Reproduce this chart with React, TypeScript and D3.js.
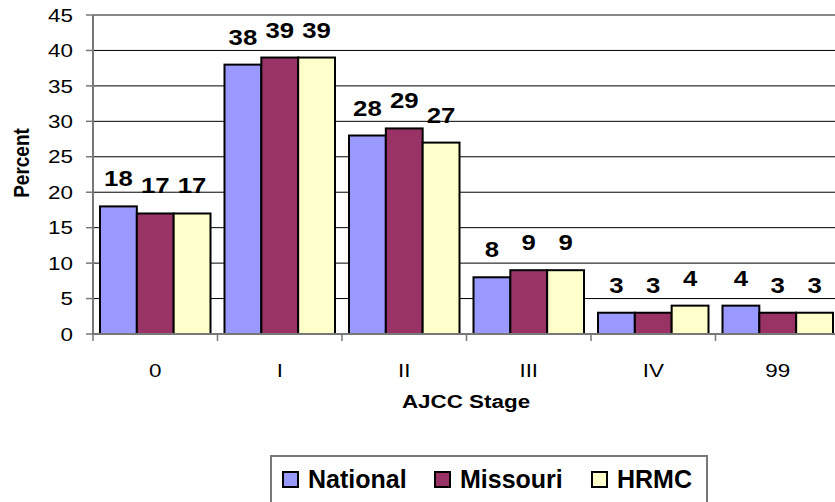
import * as d3 from 'd3';

const stages = ['0', 'I', 'II', 'III', 'IV', '99'];
const seriesNames = ['National', 'Missouri', 'HRMC'];
const national = [18, 38, 28, 8, 3, 4];
const missouri = [17, 39, 29, 9, 3, 3];
const hrmc = [17, 39, 27, 9, 4, 3];
const yTicks = [0, 5, 10, 15, 20, 25, 30, 35, 40, 45];
const colors = ['#9999FF', '#993366', '#FFFFCC'];

const W = 835;
const H = 502;
const FONT = 'Arial, "Liberation Sans", sans-serif';

// text slightly widened, like the stretched original picture
function T({ x, y, sx = 1.18, anchor = 'middle', size = 19, bold = false, dy, children }: any) {
  return (
    <text transform={`translate(${x},${y}) scale(${sx},1)`} textAnchor={anchor} dy={dy}
      fontSize={size} fontWeight={bold ? 'bold' : 'normal'}>{children}</text>
  );
}

export default function App() {
  const series = [national, missouri, hrmc];
  const left = 93, right = 840, top = 15, bottom = 334;

  const x = d3.scaleBand<string>().domain(stages).range([left, right]).padding(0);
  const inner = d3.scaleBand<string>().domain(seriesNames)
    .range([7, x.bandwidth() - 7]).padding(0);
  const y = d3.scaleLinear().domain([0, 45]).range([bottom, top]);

  const legendX = [283, 435, 592];

  return (
    <svg width={W} height={H} style={{ position: 'absolute', left: 0, top: 0, background: '#fff' }}
      fontFamily={FONT}>
      {/* gridlines */}
      {yTicks.filter(t => t > 0 && t < 45).map(t => (
        <line key={t} x1={left} x2={right} y1={y(t)} y2={y(t)} stroke="#000" strokeWidth={1} />
      ))}
      <line x1={left} x2={right} y1={y(45)} y2={y(45)} stroke="#888" strokeWidth={2} />

      {/* bars */}
      {stages.map((s, i) => (
        <g key={s}>
          {series.map((vals, k) => {
            const bx = (x(s) ?? 0) + (inner(seriesNames[k]) ?? 0);
            const bw = inner.bandwidth();
            return (
              <g key={k}>
                <rect x={bx} y={y(vals[i])} width={bw} height={y(0) - y(vals[i])}
                  fill={colors[k]} stroke="#000" strokeWidth={2} />
                <T x={bx + bw / 2} y={y(vals[i]) - 20} size={23} sx={1.12} bold>{vals[i]}</T>
              </g>
            );
          })}
        </g>
      ))}

      {/* axes */}
      <line x1={left} x2={left} y1={top} y2={bottom} stroke="#777" strokeWidth={2} />
      <line x1={left} x2={right} y1={bottom} y2={bottom} stroke="#777" strokeWidth={2} />
      {yTicks.map(t => (
        <g key={t}>
          <line x1={left - 7} x2={left} y1={y(t)} y2={y(t)} stroke="#777" strokeWidth={1.5} />
          <T x={73} y={y(t)} dy="0.35em" anchor="end">{t}</T>
        </g>
      ))}
      {stages.map(s => (
        <g key={s}>
          <line x1={x(s)} x2={x(s)} y1={bottom} y2={bottom + 7} stroke="#777" strokeWidth={1.5} />
          <T x={(x(s) ?? 0) + x.bandwidth() / 2} y={377}>{s}</T>
        </g>
      ))}
      <text transform={`translate(29,163) scale(1.2,1) rotate(-90)`} textAnchor="middle"
        fontSize={19} fontWeight="bold">Percent</text>
      <T x={466} y={408} bold>AJCC Stage</T>

      {/* legend */}
      <rect x={271} y={456} width={436} height={60} fill="#fff" stroke="#777" strokeWidth={2} />
      {seriesNames.map((n, k) => (
        <g key={n}>
          <rect x={legendX[k]} y={472} width={15} height={15} fill={colors[k]} stroke="#000" strokeWidth={2} />
          <text x={legendX[k] + 25} y={488} fontSize={25} fontWeight="bold">{n}</text>
        </g>
      ))}
    </svg>
  );
}
